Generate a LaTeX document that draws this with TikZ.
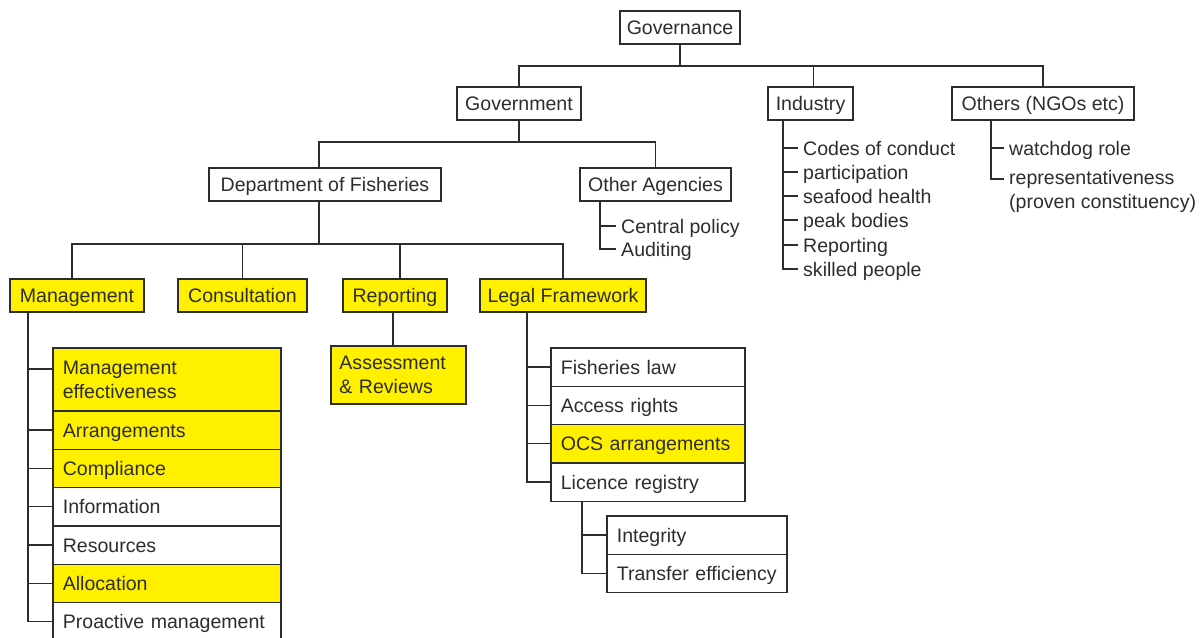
\documentclass[tikz,border=0pt]{standalone}
\usepackage{fontspec}
\setmainfont{Liberation Sans}
\usetikzlibrary{positioning}

\newlength\pxl
\setlength\pxl{0.025cm}
\definecolor{hilite}{RGB}{255,240,0}
\definecolor{ink}{RGB}{45,45,45}
\newcommand\mainsize{\fontsize{13.9pt}{17pt}\selectfont}

\tikzset{
  box/.style={draw=ink, text=ink, line width=1pt, outer sep=0pt,
    inner sep=0pt, minimum height=33\pxl, font=\mainsize,
    text height=10pt, text depth=0pt},
  twoline/.style={text height={}, text depth={}},
  hi/.style={fill=hilite},
  listbox/.style={box, anchor=north west, align=left, inner xsep=7pt,
    minimum height=38.3\pxl, text width=#1},
  item/.style={anchor=west, text=ink, inner xsep=3.5pt, inner ysep=0pt,
    font=\mainsize, align=left, text height=10pt, text depth=0pt},
  link/.style={draw=ink, line width=1pt},
}

\begin{document}
\begin{tikzpicture}[x=0.025cm, y=-0.025cm, node distance=0pt]
    \useasboundingbox (0,0) rectangle (1200,637);
    \clip (0,0) rectangle (1200,637);

    \coordinate (pgov) at (680, 27.5);
    \coordinate (pgovt) at (519, 103.5);
    \coordinate (pind) at (810.5, 103.5);
    \coordinate (poth) at (1043, 103.5);
    \coordinate (pdof) at (325, 184.5);
    \coordinate (poag) at (655.5, 184.5);

    \node [box, minimum width=120\pxl] (gov) at (pgov) {Governance};
    \node [box, minimum width=124\pxl] (govt) at (pgovt) {Government};
    \node [box, minimum width=85\pxl] (ind) at (pind) {Industry};
    \node [box, minimum width=182\pxl] (oth) at (poth) {Others (NGOs etc)};
    \node [box, minimum width=232\pxl] (dof) at (pdof) {Department of Fisheries};
    \node [box, minimum width=151\pxl] (oag) at (poag) {Other Agencies};

    \node [box, hi, minimum width=134\pxl] (man) at (77, 295.5) {Management};
    \node [box, hi, minimum width=129\pxl] (con) at (242.5, 295.5) {Consultation};
    \node [box, hi, minimum width=104\pxl] (rep) at (395, 295.5) {Reporting};
    \node [box, hi, minimum width=166\pxl] (leg) at (563, 295.5) {Legal Framework};

    \node [listbox=84pt, twoline, hi, inner xsep=6pt, minimum height=58\pxl]
    (ass) at (331, 346) {Assessment\\\& Reviews};

    % management list
    \node [listbox=148pt, twoline, hi, minimum height=63\pxl] (m1) at (53, 348)
    {Management\\effectiveness};
    \node [listbox=148pt, hi, below=of m1] (m2) {Arrangements};
    \node [listbox=148pt, hi, below=of m2] (m3) {Compliance};
    \node [listbox=148pt, below=of m3] (m4) {Information};
    \node [listbox=148pt, below=of m4] (m5) {Resources};
    \node [listbox=148pt, hi, below=of m5] (m6) {Allocation};
    \node [listbox=148pt, below=of m6] (m7) {Proactive management};

    % legal framework list
    \node [listbox=124pt] (l1) at (551, 348) {Fisheries law};
    \node [listbox=124pt, below=of l1] (l2) {Access rights};
    \node [listbox=124pt, hi, below=of l2] (l3) {OCS arrangements};
    \node [listbox=124pt, below=of l3] (l4) {Licence registry};

    \node [listbox=114pt] (s1) at (607, 516) {Integrity};
    \node [listbox=114pt, below=of s1] (s2) {Transfer efficiency};

    % plain lists
    \node [item] (a1) at (616, 226) {Central policy};
    \node [item] (a2) at (616, 249) {Auditing};

    \foreach \y/\t [count=\k] in {148/Codes of conduct, 172/participation,
      196/seafood health, 220/peak bodies, 245/Reporting, 269/skilled people}
    \node [item] (i\k) at (798, \y) {\t};

    \node [item] (o1) at (1004, 148) {watchdog role};
    \node [item, twoline] (o2) at (1004, 191) {representativeness\\(proven constituency)};

    % tree connectors
    \draw [link] (gov.south) -- ++(0,-22\pxl) coordinate (gbus);
    \draw [link] (govt.north) |- (gbus) -| (oth.north);
    \draw [link] ([xshift=3\pxl]ind.north) -- ([xshift=3\pxl]ind.north |- gbus);

    \draw [link] (govt.south) -- ++(0,-22\pxl) coordinate (vbus);
    \draw [link] ([xshift=-6\pxl]dof.north) |- (vbus) -| (oag.north);

    \draw [link] ([xshift=-6\pxl]dof.south) -- ++(0,-43\pxl) coordinate (dbus);
    \draw [link] ([xshift=-5\pxl]man.north) |- (dbus) -| (leg.north);
    \draw [link] (con.north) -- (con.north |- dbus);
    \draw [link] ([xshift=5\pxl]rep.north) -- ([xshift=5\pxl]rep.north |- dbus);
    \draw [link] ([xshift=-2\pxl]rep.south) -- ([xshift=-2\pxl]rep.south |- ass.north);

    % list brackets
    \draw [link] ([xshift=18\pxl]man.south west) coordinate (mtrunk) |- (m7.west);
    \draw [link] ([yshift=10.5\pxl]m1.west) -| (mtrunk);
    \foreach \k in {2,...,6}
    \draw [link] (m\k.west) -- (m\k.west -| mtrunk);

    \draw [link] ([xshift=47\pxl]leg.south west) coordinate (ltrunk) |- (l4.west);
    \foreach \k in {1,2,3}
    \draw [link] (l\k.west) -- (l\k.west -| ltrunk);

    \draw [link] ([xshift=31\pxl]l4.south west) coordinate (strunk) |- (s2.west);
    \draw [link] (s1.west) -- (s1.west -| strunk);

    \draw [link] ([xshift=20\pxl]oag.south west) coordinate (atrunk) |- (a2.west);
    \draw [link] (a1.west) -- (a1.west -| atrunk);

    \draw [link] ([xshift=15\pxl]ind.south west) coordinate (itrunk) |- (i6.west);
    \foreach \k in {1,...,5}
    \draw [link] (i\k.west) -- (i\k.west -| itrunk);

    \draw [link] ([xshift=39\pxl]oth.south west) coordinate (otrunk)
    |- ([yshift=12\pxl]o2.west);
    \draw [link] (o1.west) -- (o1.west -| otrunk);
  \end{tikzpicture}
\end{document}
